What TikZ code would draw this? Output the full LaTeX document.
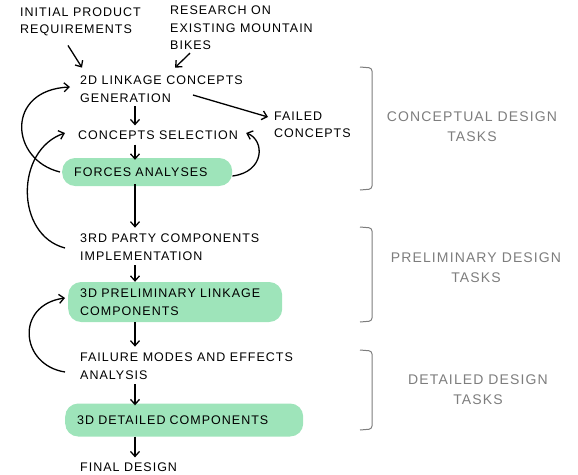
\documentclass[tikz,border=0pt]{standalone}
\usepackage{fontspec}
\setmainfont[LetterSpace=8]{Liberation Sans}
\usetikzlibrary{arrows.meta,calc}
\definecolor{mint}{RGB}{158,228,186}
\definecolor{pencil}{RGB}{125,125,125}
\begin{document}
\begin{tikzpicture}[x=1pt,y=-1pt,
  txt/.style={anchor=west,align=left,inner sep=0pt,font=\fontsize{12.5}{17.5}\selectfont},
  gtxt/.style={align=center,inner sep=0pt,text=pencil,font=\fontsize{14}{20}\selectfont},
  greenbox/.style={anchor=west,align=left,fill=mint,rounded corners=13pt,inner xsep=12pt,inner ysep=0pt,font=\fontsize{12.5}{17.5}\selectfont},
  arr/.style={line width=1.3pt,-{Straight Barb[length=5pt,width=9pt]}},
  brk/.style={line width=1pt,draw=pencil,rounded corners=3pt}]
\useasboundingbox (0,0) rectangle (578,474);
\node[txt] (req) at (20,22) {INITIAL PRODUCT\\REQUIREMENTS};
\node[txt] (res) at (170,28) {RESEARCH ON\\EXISTING MOUNTAIN\\BIKES};
\node[txt] (gen) at (80,89) {2D LINKAGE CONCEPTS\\GENERATION};
\node[txt] (failed) at (274,125) {FAILED\\CONCEPTS};
\node[txt] (sel) at (78,135) {CONCEPTS SELECTION};
\node[greenbox,minimum height=28pt,text width=146pt] (forces) at (62,172) {FORCES ANALYSES};
\node[txt] (third) at (80,247) {3RD PARTY COMPONENTS\\IMPLEMENTATION};
\node[greenbox,minimum height=40pt,text width=190pt] (prelim) at (68,302) {3D PRELIMINARY LINKAGE\\COMPONENTS};
\node[txt] (fmea) at (80,366) {FAILURE MODES AND EFFECTS\\ANALYSIS};
\node[greenbox,minimum height=33pt,text width=214pt] (detailed) at (65,420) {3D DETAILED COMPONENTS};
\node[txt] (final) at (80,467) {FINAL DESIGN};
% gray labels
\node[gtxt] (cdt) at (472,127) {CONCEPTUAL DESIGN\\TASKS};
\node[gtxt] (pdt) at (476,268) {PRELIMINARY DESIGN\\TASKS};
\node[gtxt] (ddt) at (478,390) {DETAILED DESIGN\\TASKS};
\draw[brk] (360,67) -- (372,68) -- (372,189) -- (360,190);
\draw[brk] (360,227) -- (372,228) -- (372,321) -- (360,322);
\draw[brk] (360,350) -- (372,351) -- (372,429) -- (360,430);
% arrows
\draw[arr] ($(req.south west)+(48,9)$) -- ($(gen.north west)+(2,-8)$);
\draw[arr] ($(res.south west)+(20,3)$) -- ($(gen.north west)+(95,-8)$);
\draw[arr] ($(gen.east)+(-50,6)$) -- ($(failed.west)+(-6,-8)$);
\draw[arr] ($(gen.south west)+(55,4)$) -- ($(sel.north west)+(57,-5)$);
\draw[arr] ($(sel.south west)+(57,5)$) -- ($(forces.north west)+(73,2)$);
\draw[arr] ($(forces.south west)+(73,-2)$) -- ($(third.north west)+(55,-6)$);
\draw[arr] ($(third.south west)+(55,5)$) -- ($(prelim.north west)+(67,0)$);
\draw[arr] ($(prelim.south west)+(67,0)$) -- ($(fmea.north west)+(55,-6)$);
\draw[arr] ($(fmea.south west)+(55,5)$) -- ($(detailed.north west)+(70,2)$);
\draw[arr] ($(detailed.south west)+(70,0)$) -- ($(final.north west)+(55,-5)$);
% loops
\draw[arr] ($(forces.west)+(-2,0)$) .. controls (10,160) and (5,90) .. ($(gen.west)+(-10,-2)$);
\draw[arr] ($(forces.east)+(0,4)$) .. controls (265,172) and (265,140) .. ($(sel.east)+(8,-2)$);
\draw[arr] ($(third.west)+(-15,1)$) .. controls (15,235) and (15,150) .. ($(sel.west)+(-13,-2)$);
\draw[arr] ($(fmea.west)+(-15,6)$) .. controls (20,365) and (15,305) .. ($(prelim.west)+(-3,-4)$);
\end{tikzpicture}
\end{document}
